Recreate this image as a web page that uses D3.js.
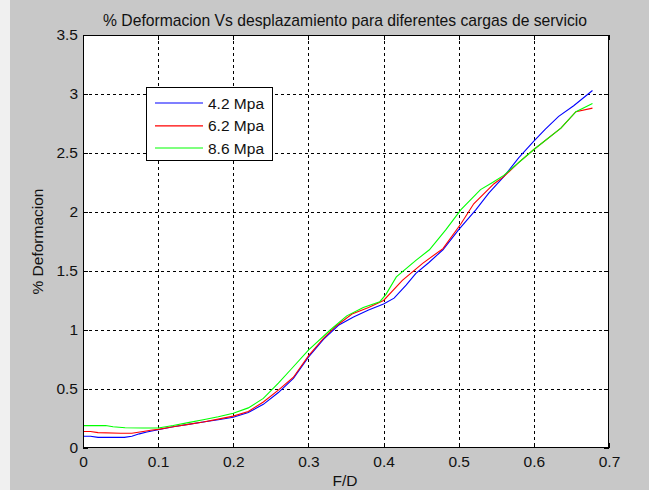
<!DOCTYPE html>
<html>
<head>
<meta charset="utf-8">
<script src="https://cdn.jsdelivr.net/npm/d3@7"></script>
<style>
  html, body { margin: 0; padding: 0; background: #c8c8c8; }
  svg { display: block; }
  text { font-family: "Liberation Sans", Arial, Helvetica, sans-serif; fill: #111; }
</style>
</head>
<body>
<svg id="chart" width="649" height="490"></svg>
<script>
// Strain (% Deformacion) versus F/D for three service loads
const x42 = [0, 0.01, 0.02, 0.04, 0.055, 0.065, 0.075, 0.085, 0.1, 0.12, 0.14, 0.16, 0.18, 0.2, 0.22, 0.24, 0.26, 0.28, 0.3, 0.32, 0.34, 0.36, 0.38, 0.4, 0.414, 0.43, 0.443, 0.46, 0.479, 0.5, 0.523, 0.54, 0.56, 0.58, 0.6, 0.615, 0.633, 0.653, 0.678];
const y42 = [0.10, 0.10, 0.09, 0.09, 0.09, 0.10, 0.12, 0.135, 0.155, 0.18, 0.20, 0.22, 0.24, 0.26, 0.30, 0.37, 0.47, 0.59, 0.77, 0.92, 1.04, 1.11, 1.17, 1.22, 1.27, 1.38, 1.48, 1.57, 1.68, 1.85, 2.02, 2.16, 2.30, 2.46, 2.60, 2.70, 2.81, 2.90, 3.03];

const x62 = [0, 0.01, 0.02, 0.05, 0.065, 0.08, 0.09, 0.1, 0.12, 0.14, 0.16, 0.18, 0.2, 0.22, 0.24, 0.26, 0.28, 0.3, 0.32, 0.336, 0.358, 0.38, 0.4, 0.425, 0.452, 0.479, 0.503, 0.52, 0.547, 0.56, 0.58, 0.6, 0.636, 0.656, 0.678];
const y62 = [0.14, 0.14, 0.13, 0.125, 0.125, 0.14, 0.15, 0.158, 0.18, 0.20, 0.22, 0.245, 0.27, 0.31, 0.39, 0.49, 0.60, 0.78, 0.93, 1.03, 1.135, 1.19, 1.25, 1.42, 1.565, 1.69, 1.90, 2.07, 2.24, 2.30, 2.42, 2.53, 2.71, 2.85, 2.88];

const x86 = [0, 0.03, 0.04, 0.056, 0.08, 0.1, 0.12, 0.14, 0.16, 0.18, 0.2, 0.22, 0.24, 0.26, 0.276, 0.3, 0.329, 0.351, 0.373, 0.395, 0.403, 0.417, 0.443, 0.461, 0.483, 0.503, 0.529, 0.545, 0.56, 0.6, 0.636, 0.656, 0.678];
const y86 = [0.19, 0.19, 0.18, 0.172, 0.17, 0.17, 0.19, 0.215, 0.24, 0.265, 0.295, 0.34, 0.42, 0.55, 0.661, 0.83, 1.0, 1.12, 1.19, 1.24, 1.30, 1.45, 1.59, 1.68, 1.85, 2.02, 2.19, 2.25, 2.31, 2.53, 2.71, 2.85, 2.92];

const seriesNames = ["4.2 Mpa", "6.2 Mpa", "8.6 Mpa"];
const seriesColors = ["#0000ff", "#ff0000", "#00ff00"];
const xTicks = [0, 0.1, 0.2, 0.3, 0.4, 0.5, 0.6, 0.7];
const yTicks = [0, 0.5, 1, 1.5, 2, 2.5, 3, 3.5];

const titleText = "% Deformacion Vs desplazamiento para diferentes cargas de servicio";
const xLabel = "F/D";
const yLabel = "% Deformacion";

const series = [
  { name: seriesNames[0], color: seriesColors[0], pts: x42.map((x, i) => [x, y42[i]]) },
  { name: seriesNames[1], color: seriesColors[1], pts: x62.map((x, i) => [x, y62[i]]) },
  { name: seriesNames[2], color: seriesColors[2], pts: x86.map((x, i) => [x, y86[i]]) }
];

const svg = d3.select("#chart");
const W = 649, H = 490;
const plot = { left: 83, top: 35, right: 609, bottom: 448 };
const FS = 15.5;

// figure background with a light strip on the left edge
svg.append("rect").attr("width", W).attr("height", H).attr("fill", "#c8c8c8");
svg.append("rect").attr("width", 10).attr("height", H).attr("fill", "#f0f0f0");

const x = d3.scaleLinear().domain([0, 0.7]).range([plot.left, plot.right]);
const y = d3.scaleLinear().domain([0, 3.5]).range([plot.bottom, plot.top]);

// axes area
svg.append("rect")
  .attr("x", plot.left).attr("y", plot.top)
  .attr("width", plot.right - plot.left).attr("height", plot.bottom - plot.top)
  .attr("fill", "#ffffff");

// dashed grid
const grid = svg.append("g").attr("stroke", "#000").attr("stroke-width", 1)
  .attr("stroke-dasharray", "3,3").attr("shape-rendering", "crispEdges");
grid.selectAll("line.gx").data(xTicks.slice(1, -1)).join("line")
  .attr("x1", d => Math.round(x(d)) + 0.5).attr("x2", d => Math.round(x(d)) + 0.5)
  .attr("y1", plot.top).attr("y2", plot.bottom);
grid.selectAll("line.gy").data(yTicks.slice(1, -1)).join("line")
  .attr("y1", d => Math.round(y(d)) + 0.5).attr("y2", d => Math.round(y(d)) + 0.5)
  .attr("x1", plot.left).attr("x2", plot.right);

// axes with inward ticks on all four sides
const tickLen = 5;
const fmt = d => String(d);
const axB = svg.append("g").attr("transform", `translate(0,${plot.bottom})`)
  .call(d3.axisBottom(x).tickValues(xTicks).tickFormat(fmt).tickSizeInner(-tickLen).tickSizeOuter(0).tickPadding(8));
const axT = svg.append("g").attr("transform", `translate(0,${plot.top})`)
  .call(d3.axisTop(x).tickValues(xTicks).tickFormat("").tickSizeInner(-tickLen).tickSizeOuter(0));
const axL = svg.append("g").attr("transform", `translate(${plot.left},0)`)
  .call(d3.axisLeft(y).tickValues(yTicks).tickFormat(fmt).tickSizeInner(-tickLen).tickSizeOuter(0).tickPadding(5));
const axR = svg.append("g").attr("transform", `translate(${plot.right},0)`)
  .call(d3.axisRight(y).tickValues(yTicks).tickFormat("").tickSizeInner(-tickLen).tickSizeOuter(0));
[axB, axT, axL, axR].forEach(a => {
  a.select(".domain").remove();
  a.selectAll("line").attr("stroke", "#000").attr("shape-rendering", "crispEdges");
  a.selectAll("text").attr("font-size", FS).attr("fill", "#111")
    .attr("font-family", "'Liberation Sans', Arial, sans-serif");
});

// data lines
const line = d3.line().x(d => x(d[0])).y(d => y(d[1]));
svg.append("g").selectAll("path").data(series).join("path")
  .attr("d", d => line(d.pts))
  .attr("fill", "none").attr("stroke", d => d.color).attr("stroke-width", 1.1);

// axes box
svg.append("rect")
  .attr("x", plot.left + 0.5).attr("y", plot.top + 0.5)
  .attr("width", plot.right - plot.left - 1).attr("height", plot.bottom - plot.top - 1)
  .attr("fill", "none").attr("stroke", "#000").attr("shape-rendering", "crispEdges");

// title and axis labels
svg.append("text").attr("x", (plot.left + plot.right) / 2 - 1).attr("y", 26)
  .attr("text-anchor", "middle").attr("font-size", 15.7).text(titleText);
svg.append("text").attr("x", (plot.left + plot.right) / 2 - 1).attr("y", 486)
  .attr("text-anchor", "middle").attr("font-size", FS).text(xLabel);
svg.append("text")
  .attr("transform", `translate(43,${(plot.top + plot.bottom) / 2}) rotate(-90)`)
  .attr("text-anchor", "middle").attr("font-size", FS).text(yLabel);

// legend
const lg = svg.append("g");
lg.append("rect").attr("x", 146.5).attr("y", 87.5).attr("width", 126).attr("height", 73)
  .attr("fill", "#fff").attr("stroke", "#000").attr("shape-rendering", "crispEdges");
const rowY = [103, 125.8, 148];
series.forEach((s, i) => {
  lg.append("line").attr("x1", 155).attr("x2", 203).attr("y1", rowY[i]).attr("y2", rowY[i])
    .attr("stroke", s.color).attr("stroke-width", 1.2);
  lg.append("text").attr("x", 208).attr("y", rowY[i] + 5.5).attr("font-size", FS).text(s.name);
});
</script>
</body>
</html>
